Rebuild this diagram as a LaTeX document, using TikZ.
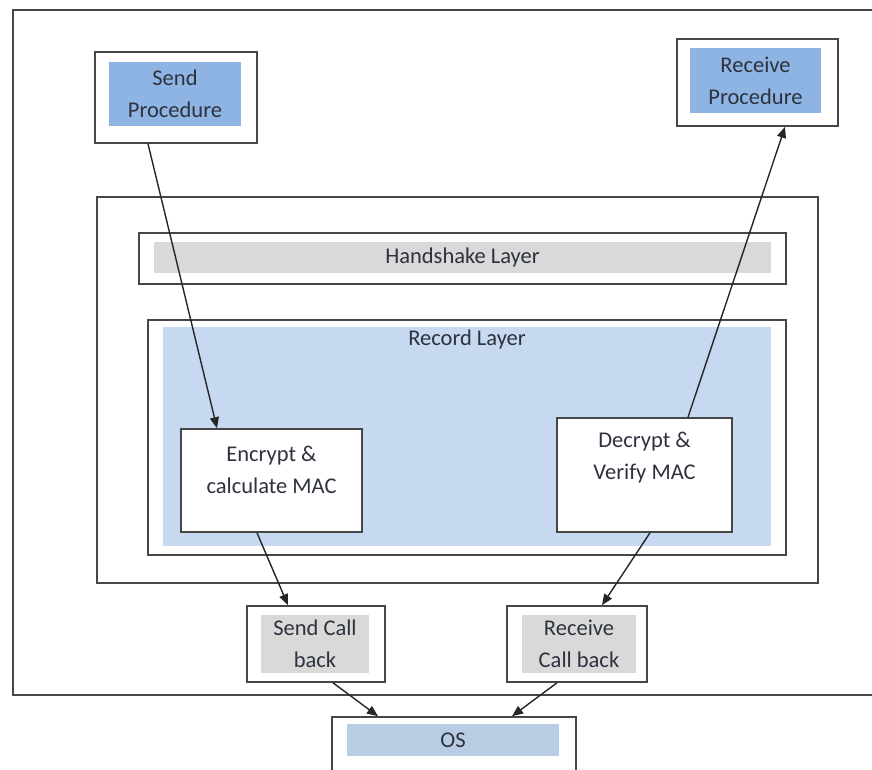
\documentclass[tikz,border=0pt]{standalone}
\usepackage{fontspec}
\setmainfont{Carlito}
\usetikzlibrary{positioning,calc}
\usetikzlibrary{arrows.meta}
\definecolor{LineGray}{RGB}{70,70,70}
\definecolor{InkGray}{RGB}{45,50,62}
\definecolor{ProcBlue}{RGB}{141,180,226}
\definecolor{RecBlue}{RGB}{198,217,240}
\definecolor{OsBlue}{RGB}{184,204,228}
\definecolor{LayerGray}{RGB}{217,217,217}
\tikzset{
  frame/.style={draw=LineGray,line width=1.6pt},
  obox/.style={rectangle,draw=LineGray,fill=white,line width=1.6pt,inner sep=0pt},
  ibox/.style={rectangle,inner sep=0pt,align=center,text=InkGray},
  flow/.style={draw=black!85,line width=1.4pt,-{Triangle[length=11pt,width=9pt]}},
  txt/.style={font=\fontsize{22.5}{32}\selectfont},
}
\begin{document}
\begin{tikzpicture}[x=1pt,y=-1pt,txt]
\useasboundingbox (0,0) rectangle (872,769);
% outer frame, its right side runs off the page
\draw[frame] (880,10)--(13,10)--(13,695)--(880,695);
% procedures
\node[obox,minimum width=162pt,minimum height=91pt] (send) at (176,97.5) {};
\node[ibox,fill=ProcBlue,minimum width=132pt,minimum height=64pt] (sendin) at (175,94) {Send\\Procedure};
\node[obox,minimum width=161pt,minimum height=87pt] (recv) at (757.5,82.5) {};
\node[ibox,fill=ProcBlue,minimum width=131pt,minimum height=65pt] (recvin) at (755.5,80.5) {Receive\\Procedure};
% protocol stack
\node[obox,minimum width=721pt,minimum height=386pt] (stack) at (457.5,390) {};
\node[obox,minimum width=647pt,minimum height=51pt] (hand) at (462.5,258.5) {};
\node[ibox,fill=LayerGray,minimum width=617pt,minimum height=31pt] (handin) at (462.5,257.5) {Handshake Layer};
\node[obox,minimum width=638pt,minimum height=235pt] (rec) at (467,437.5) {};
\node[ibox,fill=RecBlue,minimum width=608pt,minimum height=219pt] (recin) at (467,436.5) {};
\node[ibox,anchor=north] (reclbl) at ([yshift=-3pt]recin.north) {Record Layer};
\node[obox,minimum width=181pt,minimum height=103pt] (enc) at (271.5,480.5) {};
\node[ibox,anchor=north] (enclbl) at ([yshift=-18pt]enc.north) {Encrypt \&\\calculate MAC};
\node[obox,minimum width=175pt,minimum height=114pt] (dec) at (644.5,475) {};
\node[ibox,anchor=north] (declbl) at ([yshift=-15pt]dec.north) {Decrypt \&\\Verify MAC};
% call backs and OS
\node[obox,minimum width=138pt,minimum height=76pt] (sendcb) at (316,644) {};
\node[ibox,fill=LayerGray,minimum width=108pt,minimum height=58pt] (sendcbin) at (315,644) {Send Call\\back};
\node[obox,minimum width=140pt,minimum height=76pt] (recvcb) at (577,644) {};
\node[ibox,fill=LayerGray,minimum width=114pt,minimum height=58pt] (recvcbin) at (579,644) {Receive\\Call back};
\node[obox,minimum width=244pt,minimum height=90pt] (os) at (454,762) {};
\node[ibox,fill=OsBlue,minimum width=212pt,minimum height=32pt] (osin) at (453,740) {OS};
% arrows
\draw[flow] ([xshift=-28pt]send.south) -- ([xshift=-54.5pt]enc.north);
\draw[flow] ([xshift=43.5pt]dec.north) -- ([xshift=27.5pt]recv.south);
\draw[flow] ([xshift=-14.5pt]enc.south) -- ([xshift=-28pt]sendcb.north);
\draw[flow] ([xshift=5.5pt]dec.south) -- ([xshift=25pt]recvcb.north);
\draw[flow] ([xshift=17pt]sendcb.south) -- ([xshift=-76pt]os.north);
\draw[flow] ([xshift=-20pt]recvcb.south) -- ([xshift=58pt]os.north);
\end{tikzpicture}
\end{document}
